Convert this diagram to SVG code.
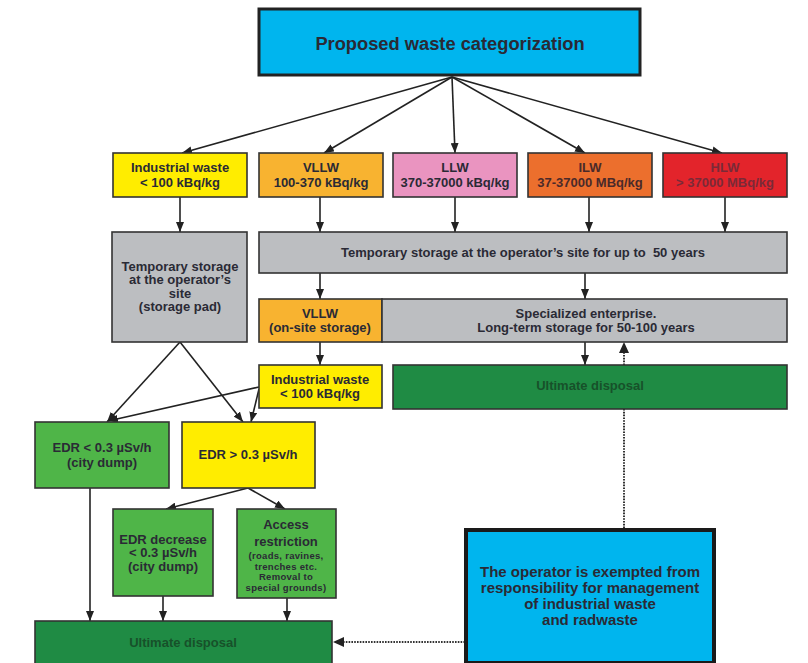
<svg xmlns="http://www.w3.org/2000/svg" width="808" height="663" viewBox="0 0 808 663">
  <defs>
    <marker id="ah" viewBox="0 0 10 8" refX="10" refY="4" markerWidth="10" markerHeight="8" markerUnits="userSpaceOnUse" orient="auto">
      <path d="M0,0 L10,4 L0,8 z" fill="#222"/>
    </marker>
    <style>
      .box { stroke: #333; stroke-width: 1.6; }
      .t { font-family: "Liberation Sans", Arial, sans-serif; font-weight: bold; font-size: 13px; fill: #2a2a35; text-anchor: middle; }
      .s { font-size: 9.5px; letter-spacing: 0.3px; }
      .big { font-size: 15px; }
      .ud { fill: #17512a; }
      .ln { fill: none; stroke: #222; stroke-width: 1.6; marker-end: url(#ah); }
      .dot { fill: none; stroke: #333; stroke-width: 2; stroke-dasharray: 1.6 1.2; }
      .yellow { fill: #ffed00; }
      .vllw { fill: #f8b330; }
      .llw { fill: #ea94c0; }
      .ilw { fill: #ec6f2d; }
      .hlw { fill: #e3242b; }
      .grey { fill: #bcbec1; }
      .dgreen { fill: #1f8b44; }
      .lgreen { fill: #4fb548; }
      .blue { fill: #00b5ee; }
    </style>
  </defs>

  <rect width="808" height="663" fill="#ffffff"/>

  <!-- connectors -->
  <g id="connectors">
    <!-- fan-out from the categorization box -->
    <line class="ln" x1="452" y1="77" x2="182" y2="153"/>
    <line class="ln" x1="452" y1="77" x2="324" y2="153"/>
    <line class="ln" x1="452" y1="77" x2="455" y2="153"/>
    <line class="ln" x1="452" y1="77" x2="585" y2="153"/>
    <line class="ln" x1="452" y1="77" x2="722" y2="153"/>
    <!-- categories down to temporary storage -->
    <line class="ln" x1="180" y1="197" x2="180" y2="232"/>
    <line class="ln" x1="320" y1="197" x2="320" y2="232"/>
    <line class="ln" x1="455" y1="197" x2="455" y2="232"/>
    <line class="ln" x1="589" y1="197" x2="589" y2="232"/>
    <line class="ln" x1="725" y1="197" x2="725" y2="232"/>
    <!-- temporary storage to long-term storage -->
    <line class="ln" x1="320" y1="273" x2="320" y2="299"/>
    <line class="ln" x1="585" y1="273" x2="585" y2="299"/>
    <!-- on-site VLLW to industrial waste -->
    <line class="ln" x1="320" y1="342" x2="320" y2="365"/>
    <!-- long-term storage to ultimate disposal and back -->
    <line class="ln" x1="585" y1="342" x2="585" y2="365"/>
    <line class="dot" x1="624" y1="365" x2="624" y2="352"/>
    <path d="M619,353 L624,342 L629,353 z" fill="#222"/>
    <line class="dot" x1="624" y1="409" x2="624" y2="528"/>
    <!-- storage pad to EDR boxes -->
    <line class="ln" x1="180" y1="342" x2="107" y2="422"/>
    <line class="ln" x1="180" y1="342" x2="243" y2="422"/>
    <!-- second industrial waste box to EDR boxes -->
    <line class="ln" x1="259" y1="387" x2="108" y2="421"/>
    <line class="ln" x1="259" y1="389" x2="251" y2="422"/>
    <!-- EDR above limit splits -->
    <line class="ln" x1="248" y1="488" x2="166" y2="509"/>
    <line class="ln" x1="248" y1="488" x2="285" y2="509"/>
    <!-- down to ultimate disposal -->
    <line class="ln" x1="90" y1="488" x2="90" y2="621"/>
    <line class="ln" x1="163" y1="596" x2="163" y2="621"/>
    <line class="ln" x1="287" y1="598" x2="287" y2="621"/>
    <!-- exemption to bottom ultimate disposal -->
    <line class="dot" x1="465" y1="642" x2="343" y2="642"/>
    <path d="M344,637 L333,642 L344,647 z" fill="#222"/>
  </g>

  <g id="title">
    <rect x="259" y="9" width="381" height="66" class="blue" stroke="#222" stroke-width="3"/>
    <text class="t" x="450" y="49.5" style="font-size:18.3px">Proposed waste categorization</text>
  </g>

  <g id="industrial-waste">
    <rect x="113" y="153" width="134" height="44" class="box yellow"/>
    <text class="t" x="180" y="171.5">Industrial waste</text>
    <text class="t" x="180" y="186.5">&lt; 100 kBq/kg</text>
  </g>

  <g id="vllw">
    <rect x="259" y="153" width="124" height="44" class="box vllw"/>
    <text class="t" x="321" y="171.5">VLLW</text>
    <text class="t" x="321" y="186.5">100-370 kBq/kg</text>
  </g>

  <g id="llw">
    <rect x="393" y="153" width="124" height="44" class="box llw"/>
    <text class="t" x="455" y="171.5">LLW</text>
    <text class="t" x="455" y="186.5">370-37000 kBq/kg</text>
  </g>

  <g id="ilw">
    <rect x="528" y="153" width="124" height="44" class="box ilw"/>
    <text class="t" x="590" y="171.5" style="fill:#4a2a2a">ILW</text>
    <text class="t" x="590" y="186.5" style="fill:#4a2a2a">37-37000 MBq/kg</text>
  </g>

  <g id="hlw">
    <rect x="663" y="153" width="124" height="44" class="box hlw"/>
    <text class="t" x="725" y="171.5" style="fill:#7a2a38">HLW</text>
    <text class="t" x="725" y="186.5" style="fill:#7a2a38">&gt; 37000 MBq/kg</text>
  </g>

  <g id="storage-pad">
    <rect x="112" y="232" width="135" height="110" class="box grey"/>
    <text class="t" x="180" y="270.5">Temporary storage</text>
    <text class="t" x="180" y="284">at the operator’s</text>
    <text class="t" x="180" y="297.5">site</text>
    <text class="t" x="180" y="311">(storage pad)</text>
  </g>

  <g id="temporary-storage">
    <rect x="259" y="232" width="528" height="41" class="box grey"/>
    <text class="t" x="523" y="256.5" xml:space="preserve">Temporary storage at the operator’s site for up to  50 years</text>
  </g>

  <g id="vllw-on-site">
    <rect x="259" y="299" width="123" height="43" class="box vllw"/>
    <text class="t" x="320" y="317.5">VLLW</text>
    <text class="t" x="320" y="331.5">(on-site storage)</text>
  </g>

  <g id="long-term-storage">
    <rect x="382" y="299" width="405" height="43" class="box grey"/>
    <text class="t" x="586" y="317.5">Specialized enterprise.</text>
    <text class="t" x="586" y="331.5">Long-term storage for 50-100 years</text>
  </g>

  <g id="industrial-waste-2">
    <rect x="259" y="365" width="123" height="43" class="box yellow"/>
    <text class="t" x="320" y="383.5">Industrial waste</text>
    <text class="t" x="320" y="397.5">&lt; 100 kBq/kg</text>
  </g>

  <g id="ultimate-disposal-upper">
    <rect x="393" y="365" width="394" height="44" class="box dgreen"/>
    <text class="t ud" x="590" y="389.5">Ultimate disposal</text>
  </g>

  <g id="edr-below">
    <rect x="35" y="422" width="134" height="66" class="box lgreen"/>
    <text class="t" x="102" y="451.5">EDR &lt; 0.3 µSv/h</text>
    <text class="t" x="102" y="466.5">(city dump)</text>
  </g>

  <g id="edr-above">
    <rect x="182" y="422" width="133" height="66" class="box yellow"/>
    <text class="t" x="248" y="458.5">EDR &gt; 0.3 µSv/h</text>
  </g>

  <g id="edr-decrease">
    <rect x="113" y="509" width="100" height="87" class="box lgreen"/>
    <text class="t" x="163" y="543.5">EDR decrease</text>
    <text class="t" x="163" y="557">&lt; 0.3 µSv/h</text>
    <text class="t" x="163" y="570.5">(city dump)</text>
  </g>

  <g id="access-restriction">
    <rect x="237" y="509" width="99" height="89" class="box lgreen"/>
    <text class="t" x="286" y="529">Access</text>
    <text class="t" x="286" y="546">restriction</text>
    <text class="t s" x="286" y="559">(roads, ravines,</text>
    <text class="t s" x="286" y="569.5">trenches etc.</text>
    <text class="t s" x="286" y="580">Removal to</text>
    <text class="t s" x="286" y="590.5">special grounds)</text>
  </g>

  <g id="ultimate-disposal-lower">
    <rect x="35" y="621" width="297" height="50" class="box dgreen"/>
    <text class="t ud" x="183" y="646.5">Ultimate disposal</text>
  </g>

  <g id="operator-exempted">
    <rect x="466" y="530" width="248" height="133" class="blue" stroke="#1a1a1a" stroke-width="4"/>
    <text class="t big" x="590" y="577">The operator is exempted from</text>
    <text class="t big" x="590" y="593">responsibility for management</text>
    <text class="t big" x="590" y="609">of industrial waste</text>
    <text class="t big" x="590" y="625">and radwaste</text>
  </g>
</svg>
